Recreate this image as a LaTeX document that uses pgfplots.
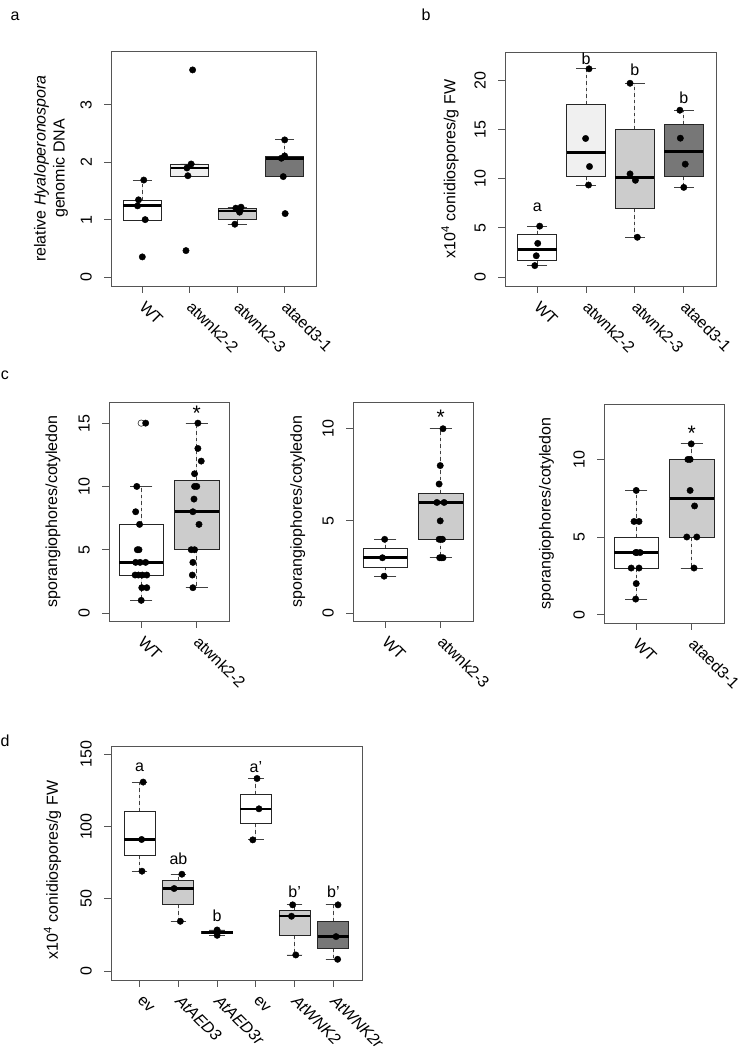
\documentclass[border=0pt]{standalone}
\usepackage{fontspec}
\setmainfont{Liberation Sans}
\usepackage{pgfplots}
\pgfplotsset{compat=1.18}
\usepgfplotslibrary{statistics}
\definecolor{fB}{HTML}{F0F0F0}
\definecolor{fC}{HTML}{CCCCCC}
\definecolor{fD}{HTML}{777777}
\definecolor{frm}{HTML}{555555}
\newcommand{\fs}{\fontsize{16}{19}\selectfont}
\newcommand{\fstar}{\fontsize{21}{24}\selectfont}
\pgfplotsset{
  rstyle/.style={
    scale only axis, anchor=south west,
    axis line style={frm, line width=0.9pt},
    tick pos=left, tick align=outside, major tick length=7pt,
    every tick/.style={frm, line width=0.9pt},
    font=\fs,
    /pgf/number format/assume math mode=true,
    yticklabel style={xshift=-12pt, rotate=90, anchor=south, inner sep=0pt},
    xticklabel style={yshift=-11pt, rotate=-45, anchor=west, inner sep=0pt},
    ylabel style={align=center},
    clip=false,
  },
  rbox/.style={
    draw=black!85, line width=0.9pt, solid,
    boxplot/draw direction=y,
    boxplot/box extend=0.8,
    boxplot/whisker extend=0.4,
    boxplot/every median/.style={draw=black, line width=2.6pt},
    boxplot/draw/lower whisker/.code={%
      \draw[black!75, line width=0.9pt, dash pattern=on 3.5pt off 3pt]
        (boxplot cs:\pgfplotsboxplotvalue{lower quartile}) -- (boxplot cs:\pgfplotsboxplotvalue{lower whisker});
      \draw[black!75, line width=0.9pt, solid]
        (boxplot whisker cs:\pgfplotsboxplotvalue{lower whisker},0) -- (boxplot whisker cs:\pgfplotsboxplotvalue{lower whisker},1);
    },
    boxplot/draw/upper whisker/.code={%
      \draw[black!75, line width=0.9pt, dash pattern=on 3.5pt off 3pt]
        (boxplot cs:\pgfplotsboxplotvalue{upper quartile}) -- (boxplot cs:\pgfplotsboxplotvalue{upper whisker});
      \draw[black!75, line width=0.9pt, solid]
        (boxplot whisker cs:\pgfplotsboxplotvalue{upper whisker},0) -- (boxplot whisker cs:\pgfplotsboxplotvalue{upper whisker},1);
    },
  },
  rpts/.style={only marks, mark=*, mark size=3.2pt, black, mark options={solid, fill=black}},
}
\begin{document}
\begin{tikzpicture}
\path[use as bounding box, fill=white] (0,0) rectangle (743pt,1048pt);
\node[font=\fs] at (15pt,1032pt) {a};
\node[font=\fs] at (426pt,1033pt) {b};
\node[font=\fs] at (5pt,673pt) {c};
\node[font=\fs] at (5pt,307pt) {d};

% ---------------- panel a
\begin{axis}[rstyle, at={(111pt,762pt)}, width=205pt, height=235pt,
  xmin=0.34, xmax=4.66, ymin=-0.157, ymax=3.94,
  xtick={1,2,3,4}, xticklabels={WT,atwnk2-2,atwnk2-3,ataed3-1},
  ytick={0,1,2,3},
  ylabel={relative \textit{Hyaloperonospora}\\genomic DNA},
  ylabel style={at={(axis description cs:-0.293,0.5)}, anchor=center}]
\addplot[rbox, fill=white, boxplot prepared={draw position=1, lower whisker=0.99, lower quartile=0.99, median=1.246, upper quartile=1.34, upper whisker=1.69}] coordinates {};
\addplot[rbox, fill=fB, boxplot prepared={draw position=2, lower whisker=1.76, lower quartile=1.76, median=1.90, upper quartile=1.97, upper whisker=1.97}] coordinates {};
\addplot[rbox, fill=fC, boxplot prepared={draw position=3, lower whisker=0.92, lower quartile=1.01, median=1.15, upper quartile=1.20, upper whisker=1.217}] coordinates {};
\addplot[rbox, fill=fD, boxplot prepared={draw position=4, lower whisker=1.75, lower quartile=1.75, median=2.07, upper quartile=2.11, upper whisker=2.39}] coordinates {};
\addplot[rpts] table {
x y
1.03 1.69
0.92 1.345
0.90 1.24
1.06 1.0
1.00 0.35
2.06 3.61
2.03 1.97
1.94 1.90
1.96 1.765
1.92 0.46
3.08 1.217
2.97 1.20
3.04 1.17
3.05 1.13
2.95 0.92
4.00 2.39
4.00 2.11
3.93 2.07
3.97 1.75
4.01 1.105
};
\end{axis}

% ---------------- panel b
\begin{axis}[rstyle, at={(505pt,762pt)}, width=211pt, height=234pt,
  xmin=0.34, xmax=4.66, ymin=-0.91, ymax=22.87,
  xtick={1,2,3,4}, xticklabels={WT,atwnk2-2,atwnk2-3,ataed3-1},
  ytick={0,5,10,15,20},
  ylabel={x10\textsuperscript{4} conidiospores/g FW},
  ylabel style={at={(axis description cs:-0.26,0.5)}, anchor=center}]
\addplot[rbox, fill=white, boxplot prepared={draw position=1, lower whisker=1.16, lower quartile=1.64, median=2.81, upper quartile=4.28, upper whisker=5.17}] coordinates {};
\addplot[rbox, fill=fB, boxplot prepared={draw position=2, lower whisker=9.35, lower quartile=10.24, median=12.64, upper quartile=17.57, upper whisker=21.16}] coordinates {};
\addplot[rbox, fill=fC, boxplot prepared={draw position=3, lower whisker=4.04, lower quartile=6.95, median=10.14, upper quartile=15.03, upper whisker=19.69}] coordinates {};
\addplot[rbox, fill=fD, boxplot prepared={draw position=4, lower whisker=9.11, lower quartile=10.24, median=12.77, upper quartile=15.48, upper whisker=16.95}] coordinates {};
\addplot[rpts] table {
x y
1.05 5.17
1.01 3.42
0.98 2.16
0.95 1.16
2.06 21.16
1.99 14.08
2.07 11.23
2.05 9.35
2.90 19.69
2.90 10.48
3.01 9.83
3.05 4.04
3.92 16.95
3.93 14.11
4.03 11.47
4.00 9.11
};
\node[font=\fs] at (axis cs:1,7.05) {a};
\node[font=\fs] at (axis cs:2,22.2) {b};
\node[font=\fs] at (axis cs:3,21.1) {b};
\node[font=\fs] at (axis cs:4,18.25) {b};
\end{axis}

% ---------------- panel c1
\begin{axis}[rstyle, at={(109pt,427pt)}, width=120pt, height=219pt,
  xmin=0.42, xmax=2.58, ymin=-0.63, ymax=16.67,
  xtick={1,2}, xticklabels={WT,atwnk2-2},
  ytick={0,5,10,15},
  ylabel={sporangiophores/cotyledon},
  ylabel style={at={(axis description cs:-0.467,0.5)}, anchor=center}]
\addplot[rbox, fill=white, boxplot prepared={draw position=1, lower whisker=1, lower quartile=3, median=4, upper quartile=7, upper whisker=10}] coordinates {};
\addplot[rbox, fill=fC, boxplot prepared={draw position=2, lower whisker=2, lower quartile=5, median=8, upper quartile=10.5, upper whisker=15}] coordinates {};
\addplot[only marks, mark=o, mark size=3.2pt, black!80, mark options={solid, line width=0.6pt}] table {
x y
1 15
};
\addplot[rpts] table {
x y
1.08 15
0.92 10
0.90 8
0.97 7
0.93 5
0.96 5
0.90 4
0.98 4
1.08 4
0.89 3
0.95 3
1.02 3
1.10 3
1.01 2
1.10 2
1.00 1
2.02 15
2.02 13
2.08 12
1.96 11
1.96 10
2.00 10
1.95 9
1.93 8
2.04 7
1.90 5
1.96 5
1.93 4
1.92 3
1.93 2
};
\node[font=\fstar, anchor=center] at (axis cs:2,15.75) {*};
\end{axis}

% ---------------- panel c2
\begin{axis}[rstyle, at={(353pt,427pt)}, width=120pt, height=219pt,
  xmin=0.42, xmax=2.58, ymin=-0.43, ymax=11.45,
  xtick={1,2}, xticklabels={WT,atwnk2-3},
  ytick={0,5,10},
  ylabel={sporangiophores/cotyledon},
  ylabel style={at={(axis description cs:-0.46,0.5)}, anchor=center}]
\addplot[rbox, fill=white, boxplot prepared={draw position=1, lower whisker=2, lower quartile=2.5, median=3, upper quartile=3.5, upper whisker=4}] coordinates {};
\addplot[rbox, fill=fC, boxplot prepared={draw position=2, lower whisker=3, lower quartile=4, median=6, upper quartile=6.5, upper whisker=10}] coordinates {};
\addplot[rpts] table {
x y
0.99 4
0.95 3
0.98 2
2.04 10
1.99 8
1.97 7
1.93 6
2.06 6
1.99 5
1.97 4
2.00 4
2.03 4
1.98 3
2.01 3
2.04 3
};
\node[font=\fstar, anchor=center] at (axis cs:2,10.6) {*};
\end{axis}

% ---------------- panel c3
\begin{axis}[rstyle, at={(604pt,425pt)}, width=120pt, height=219pt,
  xmin=0.42, xmax=2.58, ymin=-0.54, ymax=13.57,
  xtick={1,2}, xticklabels={WT,ataed3-1},
  ytick={0,5,10},
  ylabel={sporangiophores/cotyledon},
  ylabel style={at={(axis description cs:-0.48,0.5)}, anchor=center}]
\addplot[rbox, fill=white, boxplot prepared={draw position=1, lower whisker=1, lower quartile=3, median=4, upper quartile=5, upper whisker=8}] coordinates {};
\addplot[rbox, fill=fC, boxplot prepared={draw position=2, lower whisker=3, lower quartile=5, median=7.5, upper quartile=10, upper whisker=11}] coordinates {};
\addplot[rpts] table {
x y
1.00 8
0.96 6
1.05 6
0.99 4
1.01 4
1.07 4
0.91 3
1.05 3
1.00 2
0.99 1
1.99 11
1.93 10
1.97 10
1.97 8
2.05 7
1.91 5
2.09 5
2.04 3
};
\node[font=\fstar, anchor=center] at (axis cs:2,11.7) {*};
\end{axis}

% ---------------- panel d
\begin{axis}[rstyle, at={(111pt,68pt)}, width=251pt, height=234pt,
  xmin=0.26, xmax=6.74, ymin=-6.24, ymax=155.8,
  xtick={1,2,3,4,5,6}, xticklabels={ev,\textit{AtAED3},\textit{AtAED3r},ev,\textit{AtWNK2},\textit{AtWNK2r}},
  ytick={0,50,100,150},
  ylabel={x10\textsuperscript{4} conidiospores/g FW},
  ylabel style={at={(axis description cs:-0.233,0.47)}, anchor=center}]
\addplot[rbox, fill=white, boxplot prepared={draw position=1, lower whisker=69.1, lower quartile=80, median=91, upper quartile=110.7, upper whisker=130.8}] coordinates {};
\addplot[rbox, fill=fC, boxplot prepared={draw position=2, lower whisker=34.4, lower quartile=45.8, median=57.1, upper quartile=62.4, upper whisker=67}] coordinates {};
\addplot[rbox, fill=fD, boxplot prepared={draw position=3, lower whisker=24.7, lower quartile=25.7, median=26.8, upper quartile=27.7, upper whisker=28.4}] coordinates {};
\addplot[rbox, fill=white, boxplot prepared={draw position=4, lower whisker=90.8, lower quartile=101.9, median=112.3, upper quartile=122.5, upper whisker=133.3}] coordinates {};
\addplot[rbox, fill=fC, boxplot prepared={draw position=5, lower whisker=11.1, lower quartile=24.3, median=38.1, upper quartile=42.1, upper whisker=45.8}] coordinates {};
\addplot[rbox, fill=fD, boxplot prepared={draw position=6, lower whisker=8.1, lower quartile=15.9, median=23.8, upper quartile=34.4, upper whisker=45.8}] coordinates {};
\addplot[rpts] table {
x y
1.09 130.8
1.05 91.06
1.06 69.1
2.09 67
1.89 57.1
2.05 34.4
3.00 28.4
3.00 27
3.00 24.7
4.03 133.3
4.08 112.3
3.92 90.8
4.95 45.8
4.92 37.9
5.03 11.1
6.12 45.8
6.07 23.8
6.11 8.1
};
\node[font=\fs] at (axis cs:1,141.2) {a};
\node[font=\fs] at (axis cs:2,77.4) {ab};
\node[font=\fs] at (axis cs:3,38.4) {b};
\node[font=\fs] at (axis cs:4,141.2) {a’};
\node[font=\fs] at (axis cs:5,55) {b’};
\node[font=\fs] at (axis cs:6,55) {b’};
\end{axis}
\end{tikzpicture}
\end{document}
